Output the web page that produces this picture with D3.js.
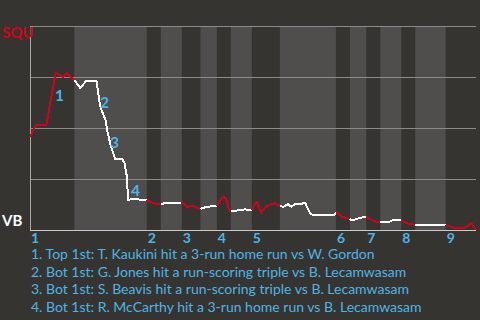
<!DOCTYPE html>
<html>
<head>
<meta charset="utf-8">
<script src="https://cdn.jsdelivr.net/npm/d3@7"></script>
<style>
  html, body { margin: 0; padding: 0; background: #363430; }
  svg { display: block; }
  text { font-family: Lato, "Open Sans", sans-serif; }
</style>
</head>
<body>
<svg id="chart" width="480" height="320"></svg>
<script>
// half inning boundaries, in pitch counts (top 1st, bot 1st, top 2nd ...)
var halfStarts = [0, 19, 50, 56, 65, 73, 80, 86, 95, 107, 131, 137, 144, 150, 159, 165, 178, 191];
var inningLabels = ["1", "2", "3", "4", "5", "6", "7", "8", "9"];

// win probability for SQU after each pitch
var winProb = [
  [0, 0.456], [2.6, 0.515], [7, 0.515], [11, 0.77], [12, 0.765], [14, 0.75], [16, 0.77], [17.5, 0.75], [19, 0.735],
  [21.5, 0.696], [24, 0.73], [28.5, 0.73], [30, 0.608], [32.5, 0.534], [33, 0.49], [34.5, 0.417], [36.5, 0.348],
  [39.5, 0.348], [40.5, 0.328], [41.5, 0.26], [42, 0.147], [43.5, 0.152], [50, 0.147],
  [51.5, 0.137], [53.5, 0.13], [56, 0.127],
  [58, 0.132], [60, 0.132], [64, 0.13], [65, 0.137],
  [67, 0.114], [70, 0.118], [71.5, 0.109], [73, 0.103],
  [74, 0.108], [76, 0.114], [80, 0.118],
  [80.5, 0.127], [82, 0.155], [83, 0.163], [84, 0.152], [85.2, 0.098], [86, 0.093],
  [87, 0.093], [90, 0.098], [92, 0.101], [95, 0.098],
  [95.5, 0.108], [97, 0.139], [99, 0.085], [100.5, 0.109], [103, 0.127], [105, 0.131], [106.5, 0.119], [107, 0.118],
  [108.5, 0.114], [110.5, 0.126], [112, 0.114], [113.5, 0.127], [118, 0.131], [118.5, 0.114], [120, 0.082],
  [121, 0.074], [130.5, 0.074], [131, 0.087],
  [132, 0.082], [133.5, 0.065], [136, 0.057], [137, 0.054],
  [137.5, 0.049], [139, 0.051], [141.5, 0.06], [144, 0.065],
  [145, 0.057], [146.5, 0.049], [148, 0.041], [150, 0.038],
  [151, 0.041], [154, 0.041], [155.5, 0.049], [159, 0.049],
  [160, 0.041], [161.5, 0.033], [163.5, 0.028], [165, 0.025],
  [178, 0.025],
  [180, 0.016], [182.5, 0.008], [185, 0.008], [187, 0.016], [189, 0.033], [191, 0]
];

var gridValues = [0.25, 0.5, 0.75, 1];

// big plays: where the marker sits (pitch, prob) and the note
var eventPitch = [10.7, 30, 34.3, 43.3];
var eventProb = [0.662, 0.625, 0.431, 0.194];
var eventNotes = [
  "1. Top 1st: T. Kaukini hit a 3-run home run vs W. Gordon",
  "2. Bot 1st: G. Jones hit a run-scoring triple vs B. Lecamwasam",
  "3. Bot 1st: S. Beavis hit a run-scoring triple vs B. Lecamwasam",
  "4. Bot 1st: R. McCarthy hit a 3-run home run vs B. Lecamwasam"
];

var teamTop = "SQU";
var teamBottom = "VB";

var BLUE = "#4db4e6";
var RED = "#d0021b";

var svg = d3.select("#chart");

var x = d3.scaleLinear().domain([0, 191]).range([30, 476]);
var y = d3.scaleLinear().domain([0, 1]).range([230, 26]);

var halves = d3.range(halfStarts.length - 1).map(function (i) {
  return { i: i, start: halfStarts[i], end: halfStarts[i + 1], top: i % 2 === 0 };
});

// background bands, lighter for the bottom halves
svg.append("g")
  .selectAll("rect")
  .data(halves.filter(function (d) { return !d.top; }))
  .enter()
  .append("rect")
  .attr("x", function (d) { return x(d.start); })
  .attr("y", y(1))
  .attr("width", function (d) { return x(d.end) - x(d.start); })
  .attr("height", y(0) - y(1))
  .attr("fill", "#4f4e4c");

// gridlines
svg.append("g")
  .selectAll("line")
  .data(gridValues)
  .enter()
  .append("line")
  .attr("x1", x(0))
  .attr("x2", x(191))
  .attr("y1", function (d) { return Math.round(y(d)) + 0.5; })
  .attr("y2", function (d) { return Math.round(y(d)) + 0.5; })
  .attr("stroke", "#8c8b88")
  .attr("stroke-width", 1);

// axis lines
svg.append("line")
  .attr("x1", x(0) + 0.5).attr("x2", x(0) + 0.5)
  .attr("y1", y(1)).attr("y2", y(0))
  .attr("stroke", "#aaa9a6");
svg.append("line")
  .attr("x1", x(0)).attr("x2", x(191))
  .attr("y1", y(0) + 0.5).attr("y2", y(0) + 0.5)
  .attr("stroke", "#c9c9c6");

// the probability line, one path per half inning
var line = d3.line()
  .x(function (d) { return x(d[0]); })
  .y(function (d) { return y(d[1]); });

svg.append("g")
  .selectAll("path")
  .data(halves)
  .enter()
  .append("path")
  .attr("d", function (h) {
    return line(winProb.filter(function (d) { return d[0] >= h.start && d[0] <= h.end; }));
  })
  .attr("fill", "none")
  .attr("stroke", function (h) { return h.top ? RED : "#ffffff"; })
  .attr("stroke-width", 2)
  .attr("stroke-linejoin", "round")
  .style("shape-rendering", "crispEdges");

// team labels
svg.append("text")
  .attr("x", 2).attr("y", 38)
  .attr("fill", RED)
  .attr("font-size", 15).attr("font-weight", "bold")
  .text(teamTop);
svg.append("text")
  .attr("x", 2).attr("y", 226)
  .attr("fill", "#ffffff")
  .attr("font-size", 15).attr("font-weight", "bold")
  .text(teamBottom);

// inning numbers under the top halves
svg.append("g")
  .selectAll("text")
  .data(inningLabels)
  .enter()
  .append("text")
  .attr("x", function (d, i) { return x(halfStarts[i * 2]) + 1; })
  .attr("y", 243)
  .attr("fill", BLUE)
  .attr("font-size", 14).attr("font-weight", "bold")
  .text(function (d) { return d; });

// event markers
svg.append("g")
  .selectAll("text")
  .data(eventPitch)
  .enter()
  .append("text")
  .attr("x", function (d) { return x(d); })
  .attr("y", function (d, i) { return y(eventProb[i]); })
  .attr("dy", "0.36em")
  .attr("fill", BLUE)
  .attr("font-size", 15.5).attr("font-weight", "bold")
  .text(function (d, i) { return i + 1; });

// notes
svg.append("g")
  .selectAll("text")
  .data(eventNotes)
  .enter()
  .append("text")
  .attr("x", 31)
  .attr("y", function (d, i) { return 259 + i * 17.5; })
  .attr("fill", BLUE)
  .attr("font-size", 14)
  .text(function (d) { return d; });
</script>
</body>
</html>
